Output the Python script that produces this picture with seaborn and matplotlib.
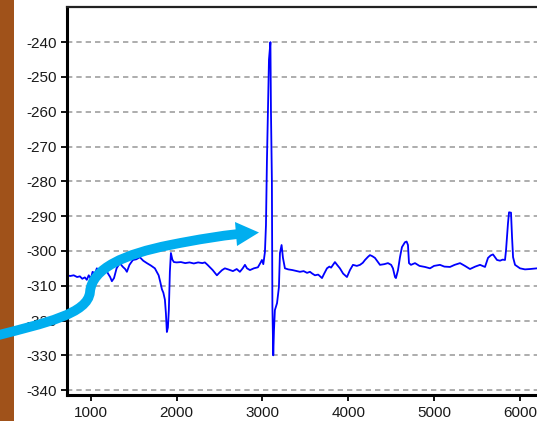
import matplotlib
matplotlib.use("Agg")
import matplotlib.pyplot as plt
from matplotlib.path import Path
from matplotlib.patches import PathPatch, Polygon, Rectangle
import seaborn as sns
import pandas as pd

# ---- data -------------------------------------------------------------
x_vals = [720, 760, 800, 840, 872, 900, 930, 953, 975, 1000, 1020, 1047, 1070, 1100,
          1140, 1170, 1200, 1225, 1245, 1270, 1300, 1338, 1370, 1400, 1420, 1450, 1490,
          1530, 1571, 1610, 1653, 1700, 1746, 1790, 1810, 1828, 1845, 1863, 1875, 1886,
          1898, 1909, 1921, 1933, 1950, 1968, 2000, 2050, 2100, 2150, 2200, 2250, 2300,
          2329, 2360, 2388, 2420, 2469, 2500, 2530, 2562, 2600, 2656, 2700, 2737, 2770,
          2796, 2820, 2854, 2900, 2947, 2975, 2994, 3010, 3029,
          3041, 3052, 3064, 3076, 3093, 3099, 3110, 3116, 3126, 3134, 3145, 3170, 3192,
          3204, 3223, 3239, 3262, 3300, 3350, 3400, 3437, 3480, 3520, 3554, 3580, 3612,
          3650, 3694, 3720, 3752, 3780, 3800, 3845, 3870, 3903, 3940, 3985, 4020, 4055,
          4100, 4137, 4170, 4195, 4230, 4253, 4280, 4311, 4340, 4370, 4420, 4463, 4500,
          4521, 4545, 4556, 4580, 4603, 4626, 4661, 4680, 4696, 4708, 4731, 4778, 4830,
          4894, 4953, 5000, 5069, 5120, 5186, 5240, 5303, 5360, 5419, 5480, 5536, 5594,
          5629, 5660, 5687, 5710, 5734, 5769, 5800, 5827, 5839, 5862, 5874, 5897, 5909,
          5921, 5944, 6002, 6060, 6118, 6200]
y_vals = [-307.0, -307.2, -307.0, -307.5, -307.3, -308.0, -307.6, -308.3, -307.0, -308.0,
          -306.0, -306.5, -305.0, -305.8, -304.5, -305.0, -306.5, -307.5, -308.7, -307.8,
          -305.0, -303.5, -304.5, -305.2, -306.0, -304.0, -302.6, -302.4, -301.8, -302.8,
          -303.5, -304.2, -305.0, -307.0, -309.0, -311.0, -312.0, -314.0, -318.0, -323.3,
          -322.0, -317.0, -306.0, -300.6, -302.5, -303.2, -303.3, -303.2, -303.5, -303.3,
          -303.6, -303.3, -303.5, -303.3, -304.0, -304.7, -305.5, -307.0, -306.2, -305.5,
          -305.0, -305.3, -305.8, -305.2, -306.0, -305.0, -304.0, -305.0, -305.5, -305.0,
          -304.7, -303.5, -302.6, -303.8, -300.3,
          -292.6, -274.5, -259.5, -245.0, -240.0, -259.5, -279.7, -316.0, -330.0, -323.0,
          -317.0, -315.0, -310.4, -300.6, -298.3, -302.0, -305.0, -305.3, -305.5, -305.8,
          -306.0, -305.8, -306.3, -306.0, -306.5, -307.0, -306.8, -307.8, -306.5, -305.0,
          -304.5, -304.8, -303.2, -304.0, -305.0, -306.5, -307.5, -305.5, -304.0, -304.3,
          -304.0, -303.4, -302.6, -301.7, -301.2, -301.5, -302.0, -303.0, -304.0, -303.8,
          -303.5, -304.0, -305.0, -307.5, -307.8, -305.5, -301.8, -298.9, -297.5, -297.3,
          -298.3, -303.5, -304.0, -303.5, -304.3, -304.6, -305.0, -304.3, -304.0, -304.5,
          -304.6, -304.0, -303.5, -304.3, -305.2, -304.5, -304.0, -304.6, -302.0, -301.3,
          -301.0, -301.8, -302.6, -302.8, -302.5, -302.6, -299.8, -292.0, -288.9, -289.0,
          -296.0, -301.8, -304.0, -305.0, -305.3, -305.2, -305.0]
y_ticks = [-240, -250, -260, -270, -280, -290, -300, -310, -320, -330, -340]
x_ticks = [1000, 2000, 3000, 4000, 5000, 6000]

df = pd.DataFrame({"x": x_vals, "y": y_vals})

# ---- figure -----------------------------------------------------------
W, H = 537, 421
sns.set_style("white")
plt.rcParams["font.family"] = ["Liberation Sans", "DejaVu Sans"]
plt.rcParams["axes.unicode_minus"] = False

fig = plt.figure(figsize=(W / 100, H / 100), dpi=100)
fig.patch.set_facecolor("white")

def fx(px):
    return px / W

def fy(py):
    return 1 - py / H

# brown strip on the left
fig.patches.append(Rectangle((0, 0), fx(14), 1, transform=fig.transFigure,
                             facecolor="#a0521a", edgecolor="none", zorder=0))

ax = fig.add_axes([fx(67), fy(395), fx(537) - fx(67), fy(7) - fy(395)])
sns.lineplot(data=df, x="x", y="y", ax=ax, color="#0000ff", linewidth=1.3,
             estimator=None, sort=False)

ax.set_xlim(722, 6200)
ax.set_ylim(-341.4, -229.9)
ax.set_yticks(y_ticks)
ax.set_xticks(x_ticks)
ax.set_xlabel("")
ax.set_ylabel("")
ax.yaxis.grid(True, color="#a0a0a0", linestyle=(0, (3.2, 2.4)), linewidth=1.2)
ax.xaxis.grid(False)
ax.set_axisbelow(True)

ax.spines["left"].set_linewidth(2.2)
ax.spines["bottom"].set_linewidth(2.2)
ax.spines["top"].set_linewidth(1.6)
ax.spines["top"].set_color("#222222")
ax.spines["right"].set_visible(False)
for s in ["left", "bottom"]:
    ax.spines[s].set_color("black")

ax.tick_params(axis="both", which="major", direction="out", length=4, width=1.3,
               color="black", labelsize=11, labelcolor="#1a1a1a")
ax.tick_params(axis="y", pad=3.5)
ax.tick_params(axis="x", pad=4)
ax.tick_params(left=True, bottom=True)

# ---- cyan arrow annotation (figure pixel coordinates) -------------------
pts = [(-5, 336), (45, 323), (88, 314), (90, 292),
       (92, 268), (125, 254), (170, 245),
       (200, 239), (220, 236), (238, 234)]
codes = [Path.MOVETO] + [Path.CURVE4] * 9
path = Path([(fx(a), fy(b)) for a, b in pts], codes)
fig.patches.append(PathPatch(path, transform=fig.transFigure, facecolor="none",
                             edgecolor="#00aeef", linewidth=7, capstyle="butt",
                             zorder=5))
head = [(235, 222), (259, 232.5), (237, 246)]
fig.patches.append(Polygon([(fx(a), fy(b)) for a, b in head], closed=True,
                           transform=fig.transFigure, facecolor="#00aeef",
                           edgecolor="none", zorder=5))

fig.savefig("out.png", dpi=100)
